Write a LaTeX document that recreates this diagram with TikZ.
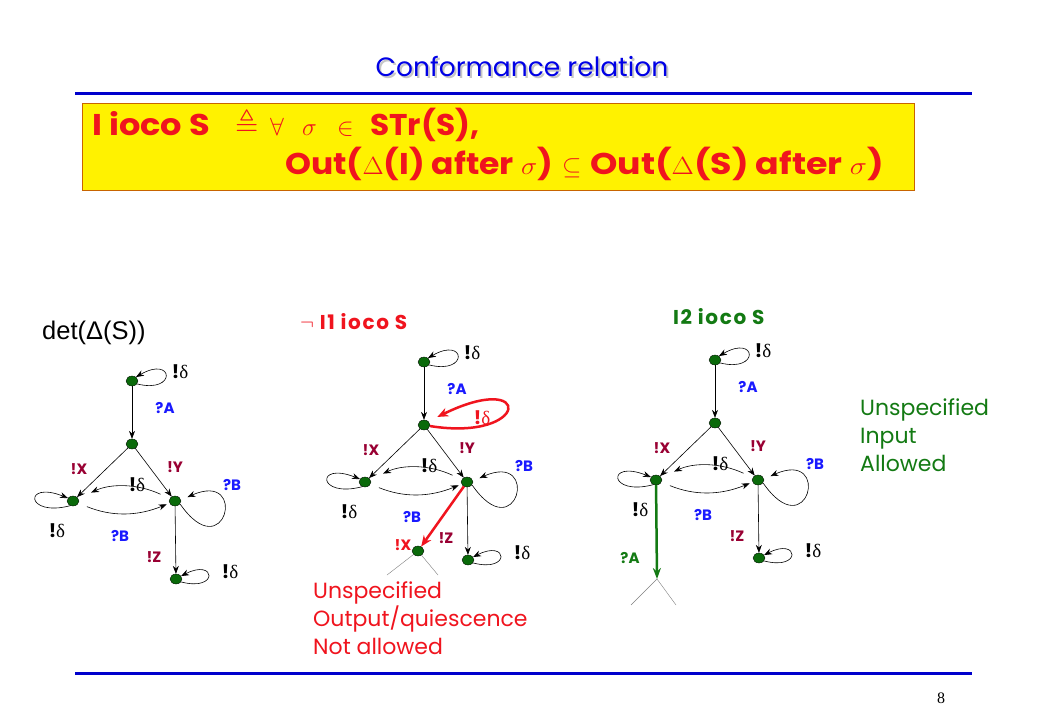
\documentclass[tikz,border=0pt]{standalone}
\usepackage{graphicx}
\usepackage{fontspec}
\usepackage{amssymb}
\setmainfont{Poppins}
\newfontfamily\arialf{Liberation Sans}
\newfontfamily\serf{Liberation Serif}
\usetikzlibrary{arrows.meta,shapes.geometric}
\definecolor{tblue}{HTML}{0000E6}
\definecolor{lineblue}{HTML}{0000CC}
\definecolor{lblue}{HTML}{1A1AFF}
\definecolor{maroon}{HTML}{990033}
\definecolor{ngreen}{HTML}{0A6A0A}
\definecolor{tgreen}{HTML}{137A13}
\definecolor{tred}{HTML}{F0141E}
\definecolor{boxborder}{HTML}{C86400}
\newcommand{\mydelta}{{\bfseries !}{\serf δ}}
\tikzset{
 state/.style={ellipse, draw=black, line width=0.3pt, fill=ngreen, minimum width=12pt, minimum height=10pt, inner sep=0pt},
 arr/.style={-{Stealth[length=8pt,width=6pt]}, line width=0.6pt},
 lbl/.style={font=\bfseries\fontsize{15}{15}\selectfont, inner sep=0pt},
 inl/.style={lbl, text=lblue},
 outl/.style={lbl, text=maroon},
 dlt/.style={font=\fontsize{19}{19}\selectfont, inner sep=0pt},
 thinl/.style={draw=gray, line width=0.4pt},
 deftext/.style={text=tred, font=\bfseries\fontsize{30}{30}\selectfont, anchor=base west, inner sep=0pt},
 captext/.style={font=\bfseries\fontsize{20}{20}\selectfont\addfontfeature{LetterSpace=8}, anchor=base west, inner sep=0pt},
 notetext/.style={font=\fontsize{22}{22}\selectfont, anchor=base west, inner sep=0pt},
}
\newcommand{\basegraph}[1]{%
 \node[state] (#1a) at (132,381) {};
 \node[state] (#1b) at (132,444) {};
 \node[state] (#1c) at (73,501) {};
 \node[state] (#1d) at (175,501) {};
 \node[state] (#1e) at (176,579) {};
 \draw[arr] (#1a) -- (#1b);
 \draw[arr] (#1b) -- (#1c);
 \draw[arr] (#1b) -- (#1d);
 \draw[arr] (#1d) -- (#1e);
 \draw[arr, shorten <=10pt, shorten >=14pt] (#1d) to[bend right=25] (#1c);
 \draw[arr, shorten <=9pt, shorten >=3pt] (#1c) to[bend right=22] (#1d);
 \draw[arr] (#1a.-30) .. controls +(40,10) and +(38,-22) .. (#1a.45);
 \draw[arr] (#1c.-120) .. controls +(-45,12) and +(-45,-18) .. (#1c.150);
 \draw[arr, shorten >=7pt] (#1d.-30) .. controls +(45,65) and +(68,-30) .. (#1d.10);
 \draw[arr] (#1e.-30) .. controls +(38,10) and +(35,-18) .. (#1e.30);
 \node[dlt] (#1l1) at (180,372) {\mydelta};
 \node[inl] (#1l2) at (165,408) {?A};
 \node[outl] (#1l3) at (79,469) {!X};
 \node[outl] (#1l4) at (175,467) {!Y};
 \node[dlt] (#1l5) at (137,485) {\mydelta};
 \node[inl] (#1l6) at (232,485) {?B};
 \node[dlt] (#1l7) at (57,531) {\mydelta};
 \node[inl] (#1l8) at (120,536) {?B};
 \node[outl] (#1l9) at (154,557) {!Z};
 \node[dlt] (#1l10) at (230,572) {\mydelta};
}
\begin{document}
\begin{tikzpicture}[x=1pt,y=-1pt]
\useasboundingbox (0,0) rectangle (1040,720);
\fill[white] (0,0) rectangle (1040,720);
% title
\node[text=gray!45, font=\fontsize{26.5}{26.5}\selectfont, anchor=base] (tsh) at (524,78) {Conformance relation};
\node[text=tblue, font=\fontsize{26.5}{26.5}\selectfont, anchor=base] (title) at (522,76) {Conformance relation};
\draw[lineblue, line width=3pt] (75,93) -- (972,93);
\draw[lineblue, line width=3pt] (75,673) -- (972,673);
\node[font=\serf\fontsize{16}{16}\selectfont, anchor=base] (pg) at (941,703) {8};
% definition box
\node[draw=boxborder, line width=0.6pt, fill=yellow, minimum width=832pt, minimum height=87pt, anchor=north west, inner sep=0pt] (defbox) at (82,103) {};
\node[deftext] (def1) at (92,135) {\makebox[143pt][l]{\scalebox{1.12}[1]{I ioco S}}\makebox[35pt][l]{$\triangleq$}\makebox[32pt][l]{$\forall$}\makebox[35pt][l]{$\sigma$}\makebox[33pt][l]{$\in$}\scalebox{1.04}[1]{STr(S),}};
\node[deftext] (def2) at (285,174) {\makebox[277pt][l]{\scalebox{1.1}[1]{Out($\Delta$(I) after $\sigma$)}}\makebox[28pt][l]{$\subseteq$}\scalebox{1.16}[1]{Out($\Delta$(S) after $\sigma$)}};
% captions
\node[font=\arialf\fontsize{25.5}{25.5}\selectfont, anchor=base west, inner sep=0pt] (cap1) at (42,339) {det(Δ(S))};
\node[captext, text=tred] (cap2) at (300,329) {$\neg$ I1 ioco S};
\node[captext, text=tgreen] (cap3) at (673,324) {I2 ioco S};
% graph 1
\basegraph{g}
% graph 2
\begin{scope}[shift={(292,-19)}]
\basegraph{h}
\end{scope}
\node[state] (hf) at (418,551) {};
\draw[tred, line width=2.5pt, -{Stealth[length=11pt,width=9pt]}] (hd) -- (hf);
\draw[tred, line width=2.5pt, -{Stealth[length=11pt,width=9pt]}, shorten >=10pt] (hb.-10) .. controls +(100,16) and +(106,-52) .. (hb.40);
\node[text=tred, font=\fontsize{19}{19}\selectfont, inner sep=0pt] (hl11) at (482,418) {{\bfseries !}{\serf δ}};
\node[lbl, text=tred] (hl12) at (403,545) {!X};
\coordinate (hfl) at (387,575);
\coordinate (hfr) at (438,575);
\draw[thinl] (hf) -- (hfl);
\draw[thinl] (hf) -- (hfr);
% graph 3
\begin{scope}[shift={(583,-21)}]
\basegraph{k}
\end{scope}
\coordinate (kt) at (657,579);
\draw[tgreen, line width=2.5pt, -{Stealth[length=11pt,width=8pt]}] (kc) -- (kt);
\node[lbl, text=tgreen] (kl11) at (630,558) {?A};
\coordinate (ktl) at (631,605);
\coordinate (ktr) at (676,605);
\draw[thinl] (kt) -- (ktl);
\draw[thinl] (kt) -- (ktr);
% notes
\node[notetext, text=tred] (note1a) at (313,598) {Unspecified};
\node[notetext, text=tred] (note1b) at (313,626) {Output/quiescence};
\node[notetext, text=tred] (note1c) at (313,654) {Not allowed};
\node[notetext, text=tgreen] (note2a) at (860,415) {Unspecified};
\node[notetext, text=tgreen] (note2b) at (860,443) {Input};
\node[notetext, text=tgreen] (note2c) at (860,471) {Allowed};
\end{tikzpicture}
\end{document}
